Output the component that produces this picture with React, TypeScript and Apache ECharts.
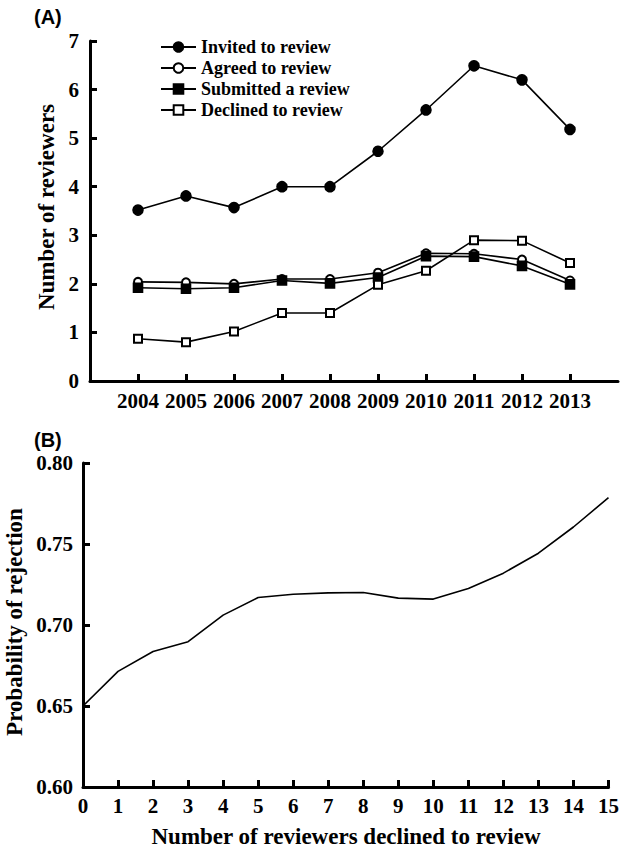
import React, { useEffect, useRef } from "react";
import * as echarts from "echarts";

const years = [2004, 2005, 2006, 2007, 2008, 2009, 2010, 2011, 2012, 2013];
const invited = [3.52, 3.81, 3.57, 4.0, 4.0, 4.73, 5.58, 6.49, 6.2, 5.18];
const agreed = [2.04, 2.03, 2.0, 2.1, 2.1, 2.23, 2.63, 2.62, 2.5, 2.07];
const submitted = [1.92, 1.9, 1.92, 2.07, 2.01, 2.13, 2.57, 2.56, 2.37, 1.99];
const declined = [0.87, 0.8, 1.02, 1.4, 1.4, 1.98, 2.27, 2.9, 2.89, 2.43];

const declinedCounts = [0, 1, 2, 3, 4, 5, 6, 7, 8, 9, 10, 11, 12, 13, 14, 15];
const rejectionProb = [
  0.65, 0.6714, 0.6836, 0.6897, 0.7061, 0.717, 0.719, 0.7198, 0.7201, 0.7166,
  0.716, 0.7225, 0.732, 0.7443, 0.7605, 0.7786,
];

const yTicksA = [0, 1, 2, 3, 4, 5, 6, 7];
const yTicksB = [0.6, 0.65, 0.7, 0.75, 0.8];

const SERIF = "'Liberation Serif', 'Times New Roman', serif";
const SANS = "'Liberation Sans', Arial, sans-serif";

export default function App() {
  const ref = useRef<HTMLDivElement>(null);
  useEffect(() => {
    if (!ref.current) return;
    const chart = echarts.init(ref.current, undefined, { renderer: "svg" });
    const axisLine = { show: true, lineStyle: { color: "#000", width: 3 } };
    const axisTick = { show: true, inside: true, length: 7, lineStyle: { color: "#000", width: 3 } };
    const labelStyle = { color: "#000", fontFamily: SERIF, fontWeight: "bold" as const, fontSize: 21 };
    const mk = (name: string, data: number[], symbol: string, size: number) => ({
      name,
      type: "line",
      xAxisIndex: 0,
      yAxisIndex: 0,
      data: years.map((y, i) => [y, data[i]]),
      symbol,
      symbolSize: size,
      showSymbol: true,
      lineStyle: { color: "#000", width: 1.6 },
      itemStyle: { color: "#000", borderColor: "#000", borderWidth: 1.6 },
      emphasis: { disabled: true },
    });
    chart.setOption({
      animation: false,
      backgroundColor: "#fff",
      grid: [
        { left: 90, right: 4, top: 41, bottom: 469 },
        { left: 83, right: 11, top: 463, bottom: 63 },
      ],
      legend: {
        orient: "vertical",
        left: 160,
        top: 38,
        padding: 0,
        itemWidth: 35,
        itemHeight: 12,
        itemGap: 3,
        textStyle: { color: "#000", fontFamily: SERIF, fontWeight: "bold", fontSize: 18, lineHeight: 18, padding: [0, 0, 0, 0] },
        data: ["Invited to review", "Agreed to review", "Submitted a review", "Declined to review"],
      },
      xAxis: [
        {
          type: "value",
          gridIndex: 0,
          min: 2003,
          max: 2014,
          interval: 1,
          splitLine: { show: false },
          axisLine,
          axisTick: { ...axisTick, customValues: years },
          axisLabel: { ...labelStyle, margin: 9, customValues: years, formatter: (v: number) => String(v) },
        },
        {
          type: "value",
          gridIndex: 1,
          min: 0,
          max: 15,
          interval: 1,
          splitLine: { show: false },
          axisLine,
          axisTick,
          axisLabel: { ...labelStyle, margin: 8, formatter: (v: number) => String(v) },
        },
      ],
      yAxis: [
        {
          type: "value",
          gridIndex: 0,
          min: 0,
          max: 7,
          interval: 1,
          splitLine: { show: false },
          axisLine,
          axisTick: { ...axisTick, customValues: yTicksA },
          axisLabel: { ...labelStyle, margin: 11, customValues: yTicksA },
        },
        {
          type: "value",
          gridIndex: 1,
          min: 0.6,
          max: 0.8,
          interval: 0.05,
          splitLine: { show: false },
          axisLine,
          axisTick: { ...axisTick, customValues: yTicksB },
          axisLabel: { ...labelStyle, margin: 10, customValues: yTicksB, formatter: (v: number) => v.toFixed(2) },
        },
      ],
      series: [
        mk("Invited to review", invited, "circle", 10),
        mk("Agreed to review", agreed, "emptyCircle", 8),
        mk("Submitted a review", submitted, "rect", 9),
        mk("Declined to review", declined, "emptyRect", 8),
        {
          name: "Probability",
          type: "line",
          xAxisIndex: 1,
          yAxisIndex: 1,
          data: declinedCounts.map((c, i) => [c, rejectionProb[i]]),
          symbol: "none",
          lineStyle: { color: "#000", width: 1.6 },
          emphasis: { disabled: true },
        },
      ],
      graphic: [
        { type: "text", left: 34, top: 7, style: { text: "(A)", font: `bold 20px ${SANS}`, fill: "#000" } },
        { type: "text", left: 34, top: 430, style: { text: "(B)", font: `bold 20px ${SANS}`, fill: "#000" } },
        {
          type: "text",
          x: 46,
          y: 207,
          rotation: Math.PI / 2,
          style: { text: "Number of reviewers", font: `bold 23px ${SERIF}`, fill: "#000", align: "center", verticalAlign: "middle" },
        },
        {
          type: "text",
          x: 14,
          y: 622,
          rotation: Math.PI / 2,
          style: { text: "Probability of rejection", font: `bold 23px ${SERIF}`, fill: "#000", align: "center", verticalAlign: "middle" },
        },
        {
          type: "text",
          x: 346,
          y: 836,
          style: { text: "Number of reviewers declined to review", font: `bold 23px ${SERIF}`, fill: "#000", align: "center", verticalAlign: "middle" },
        },
      ],
    });
    return () => chart.dispose();
  }, []);
  return <div ref={ref} style={{ position: "absolute", left: 0, top: 0, width: 622, height: 850 }} />;
}
